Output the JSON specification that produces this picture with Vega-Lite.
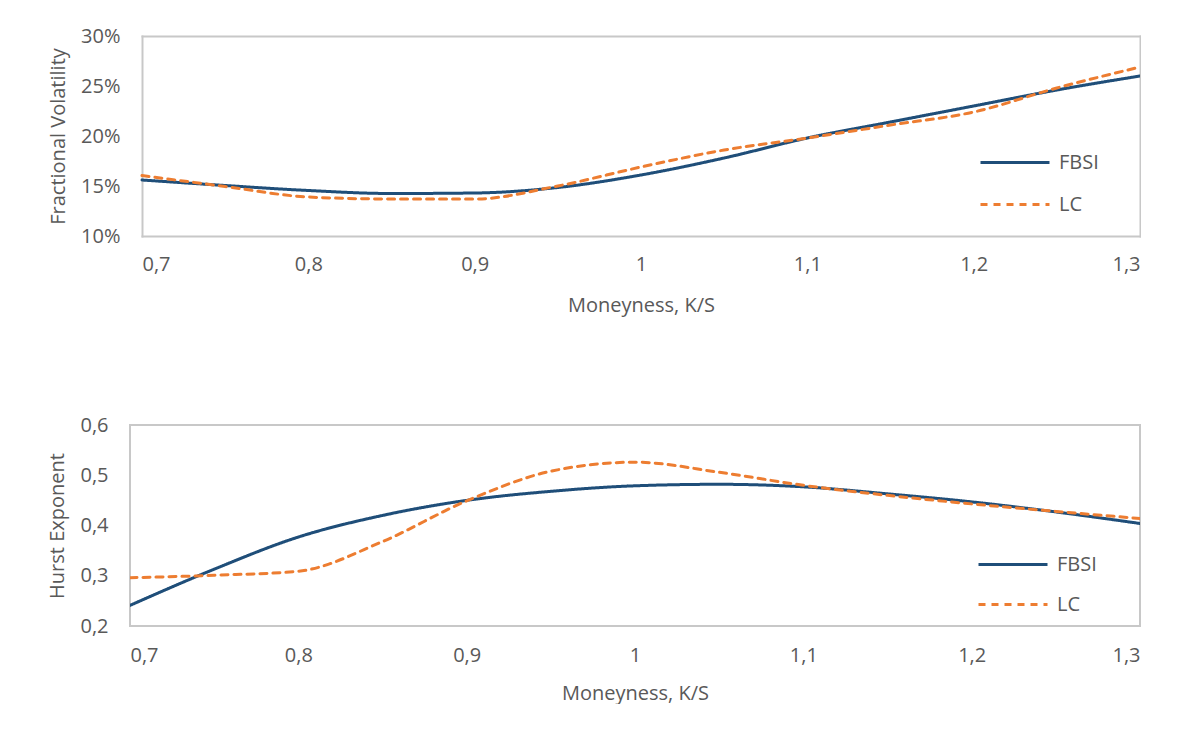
{
  "$schema": "https://vega.github.io/schema/vega-lite/v6.json",
  "padding": {"left": 46, "top": 26, "right": 0, "bottom": 0},
  "spacing": 99,
  "background": "white",
  "resolve": {"scale": {"color": "independent", "strokeDash": "independent"}, "legend": {"color": "independent", "strokeDash": "independent"}},
  "datasets": {
    "vol": [
      {"moneyness": 0.7, "series": "FBSI", "value": 0.156},
      {"moneyness": 0.75, "series": "FBSI", "value": 0.1505},
      {"moneyness": 0.8, "series": "FBSI", "value": 0.1455},
      {"moneyness": 0.85, "series": "FBSI", "value": 0.1425},
      {"moneyness": 0.9, "series": "FBSI", "value": 0.143},
      {"moneyness": 0.95, "series": "FBSI", "value": 0.1485},
      {"moneyness": 1.0, "series": "FBSI", "value": 0.161},
      {"moneyness": 1.05, "series": "FBSI", "value": 0.178},
      {"moneyness": 1.1, "series": "FBSI", "value": 0.198},
      {"moneyness": 1.15, "series": "FBSI", "value": 0.214},
      {"moneyness": 1.2, "series": "FBSI", "value": 0.23},
      {"moneyness": 1.25, "series": "FBSI", "value": 0.246},
      {"moneyness": 1.3, "series": "FBSI", "value": 0.26},
      {"moneyness": 0.7, "series": "LC", "value": 0.1605},
      {"moneyness": 0.75, "series": "LC", "value": 0.1495},
      {"moneyness": 0.8, "series": "LC", "value": 0.139},
      {"moneyness": 0.85, "series": "LC", "value": 0.137},
      {"moneyness": 0.9, "series": "LC", "value": 0.137},
      {"moneyness": 0.95, "series": "LC", "value": 0.15},
      {"moneyness": 1.0, "series": "LC", "value": 0.169},
      {"moneyness": 1.05, "series": "LC", "value": 0.186},
      {"moneyness": 1.1, "series": "LC", "value": 0.198},
      {"moneyness": 1.15, "series": "LC", "value": 0.211},
      {"moneyness": 1.2, "series": "LC", "value": 0.224},
      {"moneyness": 1.25, "series": "LC", "value": 0.248},
      {"moneyness": 1.3, "series": "LC", "value": 0.269}
    ],
    "hurst": [
      {"moneyness": 0.7, "series": "FBSI", "value": 0.241},
      {"moneyness": 0.75, "series": "FBSI", "value": 0.313},
      {"moneyness": 0.8, "series": "FBSI", "value": 0.377},
      {"moneyness": 0.85, "series": "FBSI", "value": 0.42},
      {"moneyness": 0.9, "series": "FBSI", "value": 0.45},
      {"moneyness": 0.95, "series": "FBSI", "value": 0.468},
      {"moneyness": 1.0, "series": "FBSI", "value": 0.479},
      {"moneyness": 1.05, "series": "FBSI", "value": 0.482},
      {"moneyness": 1.1, "series": "FBSI", "value": 0.477},
      {"moneyness": 1.15, "series": "FBSI", "value": 0.463},
      {"moneyness": 1.2, "series": "FBSI", "value": 0.447},
      {"moneyness": 1.25, "series": "FBSI", "value": 0.427},
      {"moneyness": 1.3, "series": "FBSI", "value": 0.404},
      {"moneyness": 0.7, "series": "LC", "value": 0.296},
      {"moneyness": 0.75, "series": "LC", "value": 0.301},
      {"moneyness": 0.8, "series": "LC", "value": 0.309},
      {"moneyness": 0.85, "series": "LC", "value": 0.368},
      {"moneyness": 0.9, "series": "LC", "value": 0.449},
      {"moneyness": 0.95, "series": "LC", "value": 0.508},
      {"moneyness": 1.0, "series": "LC", "value": 0.526},
      {"moneyness": 1.05, "series": "LC", "value": 0.506},
      {"moneyness": 1.1, "series": "LC", "value": 0.48},
      {"moneyness": 1.15, "series": "LC", "value": 0.46},
      {"moneyness": 1.2, "series": "LC", "value": 0.443},
      {"moneyness": 1.25, "series": "LC", "value": 0.428},
      {"moneyness": 1.3, "series": "LC", "value": 0.414}
    ]
  },
  "config": {
    "font": "Open Sans",
    "view": {"stroke": "#C8C8C8", "strokeWidth": 2},
    "axis": {
      "grid": false, "ticks": false, "domain": false,
      "labelFont": "Open Sans", "labelFontSize": 20, "labelColor": "#595959",
      "titleFont": "Open Sans", "titleFontSize": 20, "titleFontWeight": "normal", "titleColor": "#595959"
    },
    "legend": {
      "labelFont": "Open Sans", "labelFontSize": 20, "labelColor": "#595959"
    }
  },
  "vconcat": [
    {
      "width": 1010,
      "height": 200,
      "view": {"stroke": null},
      "data": {"name": "vol"},
      "layer": [
        {
          "mark": {"type": "line", "interpolate": "monotone", "strokeWidth": 3, "strokeCap": "round", "clip": true},
          "encoding": {
            "x": {
              "field": "moneyness", "type": "quantitative",
              "scale": {"domain": [0.7, 1.3], "range": [12, 1010], "nice": false, "zero": false},
              "axis": {"orient": "bottom", "values": [0.7, 0.8, 0.9, 1.0, 1.1, 1.2, 1.3], "labelExpr": "replace(format(datum.value, '.2~f'), '.', ',')", "title": "Moneyness, K/S", "labelPadding": 18, "titlePadding": 21, "domain": true, "domainColor": "#C8C8C8", "domainWidth": 2, "domainCap": "square"}
            },
            "y": {
              "field": "value", "type": "quantitative",
              "scale": {"domain": [0.1, 0.3], "nice": false, "zero": false},
              "axis": {"orient": "left", "offset": -12, "values": [0.1, 0.15, 0.2, 0.25, 0.3], "format": ".0%", "title": "Fractional Volatility", "labelPadding": 22, "titlePadding": 12, "domain": true, "domainColor": "#C8C8C8", "domainWidth": 2, "domainCap": "square"}
            },
            "color": {
              "field": "series", "type": "nominal",
              "scale": {"domain": ["FBSI", "LC"], "range": ["#1F4E79", "#ED7D31"]},
              "legend": {"orient": "none", "legendX": 855, "legendY": 96.5, "title": null, "symbolType": "M-1.2105,0H1.2105", "symbolSize": 3249, "symbolStrokeWidth": 3, "labelOffset": 14, "padding": 0, "offset": 0}
            },
            "strokeDash": {
              "field": "series", "type": "nominal",
              "scale": {"domain": ["FBSI", "LC"], "range": [[1, 0], [7, 6]]},
              "legend": {"orient": "none", "legendX": 855, "legendY": 96.5, "title": null, "symbolType": "M-1.2105,0H1.2105", "symbolSize": 3249, "symbolStrokeWidth": 3, "labelOffset": 14, "padding": 0, "offset": 0}
            }
          }
        },
        {
          "mark": {"type": "line", "opacity": 0, "clip": true},
          "encoding": {
            "x": {
              "field": "moneyness", "type": "quantitative",
              "scale": {"domain": [0.7, 1.3], "range": [12, 1010], "nice": false, "zero": false},
              "axis": {"orient": "top", "labels": false, "title": null, "domain": true, "domainColor": "#C8C8C8", "domainWidth": 2, "domainCap": "square"}
            },
            "y": {
              "field": "value", "type": "quantitative",
              "scale": {"domain": [0.1, 0.3], "nice": false, "zero": false},
              "axis": {"orient": "right", "labels": false, "title": null, "domain": true, "domainColor": "#C8C8C8", "domainWidth": 2, "domainCap": "square"}
            }
          }
        }
      ],
      "resolve": {"axis": {"x": "independent", "y": "independent"}}
    },
    {
      "width": 1010,
      "height": 201,
      "data": {"name": "hurst"},
      "mark": {"type": "line", "interpolate": "monotone", "strokeWidth": 3, "strokeCap": "round", "clip": true},
      "encoding": {
        "x": {
          "field": "moneyness", "type": "quantitative",
          "scale": {"domain": [0.7, 1.3], "nice": false, "zero": false},
          "axis": {"values": [0.7, 0.8, 0.9, 1.0, 1.1, 1.2, 1.3], "labelExpr": "replace(format(datum.value, '.2~f'), '.', ',')", "title": "Moneyness, K/S", "labelPadding": 19, "titlePadding": 18}
        },
        "y": {
          "field": "value", "type": "quantitative",
          "scale": {"domain": [0.2, 0.6], "nice": false, "zero": false},
          "axis": {"values": [0.2, 0.3, 0.4, 0.5, 0.6], "labelExpr": "replace(format(datum.value, '.1f'), '.', ',')", "title": "Hurst Exponent", "labelPadding": 22, "titlePadding": 12}
        },
        "color": {
          "field": "series", "type": "nominal",
          "scale": {"domain": ["FBSI", "LC"], "range": ["#1F4E79", "#ED7D31"]},
          "legend": {"orient": "none", "legendX": 855, "legendY": 111.5, "title": null, "symbolType": "M-1.3019,0H1.3019", "symbolSize": 2809, "symbolStrokeWidth": 3, "labelOffset": 16, "padding": 0, "offset": 0}
        },
        "strokeDash": {
          "field": "series", "type": "nominal",
          "scale": {"domain": ["FBSI", "LC"], "range": [[1, 0], [7, 6]]},
          "legend": {"orient": "none", "legendX": 855, "legendY": 111.5, "title": null, "symbolType": "M-1.3019,0H1.3019", "symbolSize": 2809, "symbolStrokeWidth": 3, "labelOffset": 16, "padding": 0, "offset": 0}
        }
      }
    }
  ]
}
